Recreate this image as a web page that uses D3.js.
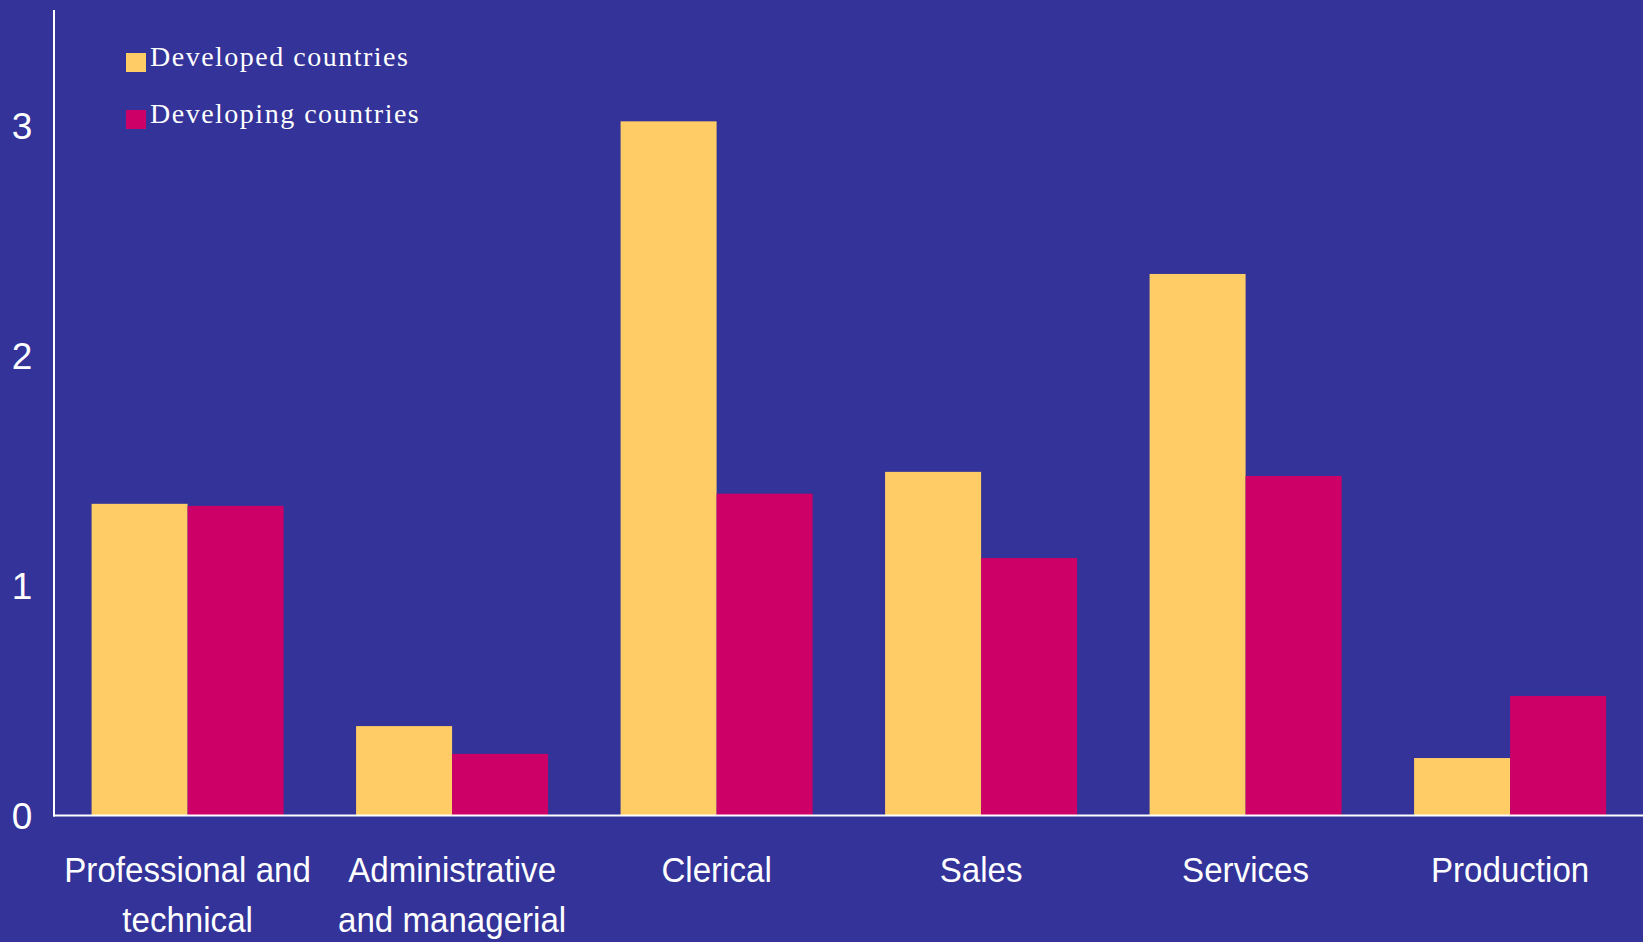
<!DOCTYPE html>
<html>
<head>
<meta charset="utf-8">
<script src="https://cdn.jsdelivr.net/npm/d3@7"></script>
<style>
  html, body { margin: 0; padding: 0; background: #333399; }
  svg { display: block; }
  .tick text, .cat text { font-family: "Liberation Sans", Arial, sans-serif; fill: #fff; }
  .legend text { font-family: "Liberation Serif", "Times New Roman", serif; fill: #fff; }
</style>
</head>
<body>
<script>
  // data
  var categories = ["Professional and\ntechnical", "Administrative\nand managerial", "Clerical", "Sales", "Services", "Production"];
  var seriesNames = ["Developed countries", "Developing countries"];
  var developed  = [1.356, 0.389, 3.02, 1.495, 2.356, 0.25];
  var developing = [1.347, 0.268, 1.40, 1.12, 1.477, 0.52];
  var yTicks = [0, 1, 2, 3];
  var colors = ["#ffcc66", "#cc0066"];

  var width = 1643, height = 942;

  var svg = d3.select("body").append("svg")
      .attr("width", width)
      .attr("height", height);

  svg.append("rect").attr("width", width).attr("height", height).attr("fill", "#333399");

  var x0 = d3.scaleBand()
      .domain(d3.range(categories.length))
      .range([55.35, 1642.35])
      .paddingInner(0.274)
      .paddingOuter(0.137);

  var x1 = d3.scaleBand()
      .domain([0, 1])
      .range([0, x0.bandwidth()]);

  var y = d3.scaleLinear()
      .domain([0, 3.5])
      .range([815.5, 11]);

  var rows = categories.map(function (c, i) {
    return { i: i, values: [developed[i], developing[i]] };
  });

  var groups = svg.append("g").selectAll("g")
      .data(rows)
    .enter().append("g")
      .attr("transform", function (d) { return "translate(" + x0(d.i) + ",0)"; });

  groups.selectAll("rect")
      .data(function (d) { return d.values.map(function (v, k) { return { k: k, v: v }; }); })
    .enter().append("rect")
      .attr("x", function (d) { return x1(d.k); })
      .attr("width", x1.bandwidth())
      .attr("y", function (d) { return y(d.v); })
      .attr("height", function (d) { return y(0) - y(d.v); })
      .attr("fill", function (d) { return colors[d.k]; });

  // y axis
  var yAxis = svg.append("g")
      .attr("transform", "translate(54,0)")
      .call(d3.axisLeft(y).tickValues(yTicks).tickSize(0).tickFormat(d3.format("d")));
  yAxis.select(".domain").remove();
  yAxis.selectAll("text")
      .attr("x", -32)
      .attr("dy", "0.35em")
      .attr("text-anchor", "middle")
      .style("font-size", "37px");

  svg.append("line")
      .attr("x1", 54).attr("x2", 54)
      .attr("y1", 10).attr("y2", y(0) + 1)
      .attr("stroke", "#fff").attr("stroke-width", 2);
  svg.append("line")
      .attr("x1", 53).attr("x2", width)
      .attr("y1", y(0)).attr("y2", y(0))
      .attr("stroke", "#fff").attr("stroke-width", 2);

  // category labels
  var cat = svg.append("g").attr("class", "cat").selectAll("g")
      .data(categories)
    .enter().append("g")
      .attr("transform", function (d, i) { return "translate(" + (x0(i) + x0.bandwidth() / 2) + ",882) scale(0.92,1)"; });

  cat.append("text")
      .attr("text-anchor", "middle")
      .style("font-size", "36px")
      .selectAll("tspan")
      .data(function (d) { return d.split("\n"); })
    .enter().append("tspan")
      .attr("x", 0)
      .attr("y", function (d, i) { return i * 50; })
      .text(function (d) { return d; });

  // legend
  var legend = svg.append("g").attr("class", "legend").selectAll("g")
      .data(seriesNames)
    .enter().append("g")
      .attr("transform", function (d, i) { return "translate(126," + (53 + i * 57) + ")"; });

  legend.append("rect")
      .attr("width", 20).attr("height", 19)
      .attr("fill", function (d, i) { return colors[i]; });

  legend.append("text")
      .attr("x", 24)
      .attr("y", 13)
      .style("font-size", "28px")
      .style("letter-spacing", "1.5px")
      .text(function (d) { return d; });
</script>
</body>
</html>
